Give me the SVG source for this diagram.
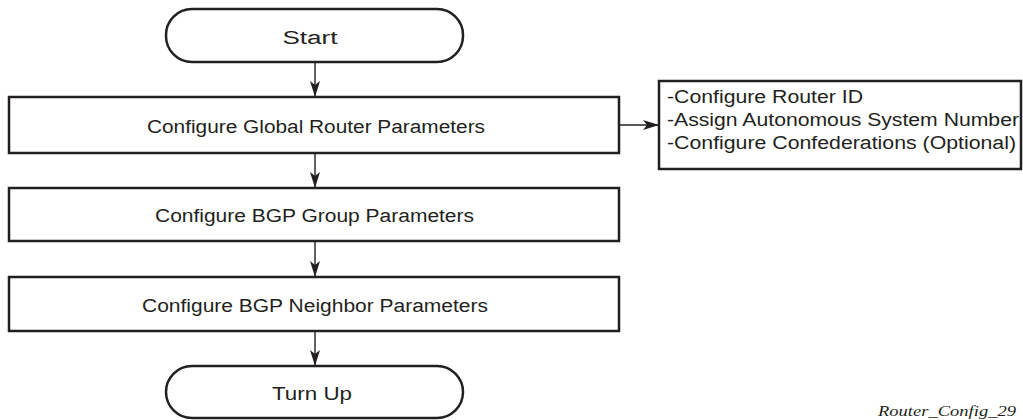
<svg xmlns="http://www.w3.org/2000/svg" width="1023" height="420" viewBox="0 0 1023 420">
  <defs>
    <style>
      .box { fill: #ffffff; stroke: #231f20; stroke-width: 2.5; }
      .lbl { font-family: "Liberation Sans", Arial, sans-serif; font-size: 18px; fill: #231f20; }
      .mid { text-anchor: middle; }
      .conn { stroke: #231f20; stroke-width: 1.4; fill: none; marker-end: url(#arr); }
      .foot { font-family: "Liberation Serif", "Times New Roman", serif; font-style: italic; font-size: 14px; fill: #231f20; }
    </style>
    <marker id="arr" viewBox="0 0 16 10" refX="15" refY="5" markerWidth="16" markerHeight="10" markerUnits="userSpaceOnUse" orient="auto">
      <path d="M0,0 L16,5 L0,10 L4,5 Z" fill="#231f20"/>
    </marker>
  </defs>
  <rect width="1023" height="420" fill="#ffffff"/>

  <g id="connectors">
    <line class="conn" x1="315" y1="62" x2="315" y2="96"/>
    <line class="conn" x1="315" y1="153" x2="315" y2="187"/>
    <line class="conn" x1="315" y1="241" x2="315" y2="276"/>
    <line class="conn" x1="315" y1="331" x2="315" y2="365"/>
    <line class="conn" x1="619" y1="125" x2="658" y2="125"/>
  </g>

  <g id="start">
    <rect class="box" x="166" y="9" width="297" height="53" rx="26" ry="26"/>
    <text class="lbl mid" x="310" y="44" textLength="55" lengthAdjust="spacingAndGlyphs">Start</text>
  </g>

  <g id="global">
    <rect class="box" x="9" y="97" width="610" height="56"/>
    <text class="lbl mid" x="316" y="133" textLength="338" lengthAdjust="spacingAndGlyphs">Configure Global Router Parameters</text>
  </g>

  <g id="global-details">
    <rect class="box" x="659" y="81" width="362" height="88"/>
    <text class="lbl" x="667" y="103" textLength="196" lengthAdjust="spacingAndGlyphs">-Configure Router ID</text>
    <text class="lbl" x="667" y="126" textLength="352" lengthAdjust="spacingAndGlyphs">-Assign Autonomous System Number</text>
    <text class="lbl" x="667" y="149" textLength="349" lengthAdjust="spacingAndGlyphs">-Configure Confederations (Optional)</text>
  </g>

  <g id="group">
    <rect class="box" x="9" y="188" width="610" height="53"/>
    <text class="lbl mid" x="314.5" y="222" textLength="319" lengthAdjust="spacingAndGlyphs">Configure BGP Group Parameters</text>
  </g>

  <g id="neighbor">
    <rect class="box" x="9" y="277" width="610" height="54"/>
    <text class="lbl mid" x="315" y="312" textLength="346" lengthAdjust="spacingAndGlyphs">Configure BGP Neighbor Parameters</text>
  </g>

  <g id="turnup">
    <rect class="box" x="166" y="366" width="297" height="52" rx="26" ry="26"/>
    <text class="lbl mid" x="312" y="400" textLength="80" lengthAdjust="spacingAndGlyphs">Turn Up</text>
  </g>

  <text class="foot" x="878" y="416" textLength="138" lengthAdjust="spacingAndGlyphs">Router_Config_29</text>
</svg>
